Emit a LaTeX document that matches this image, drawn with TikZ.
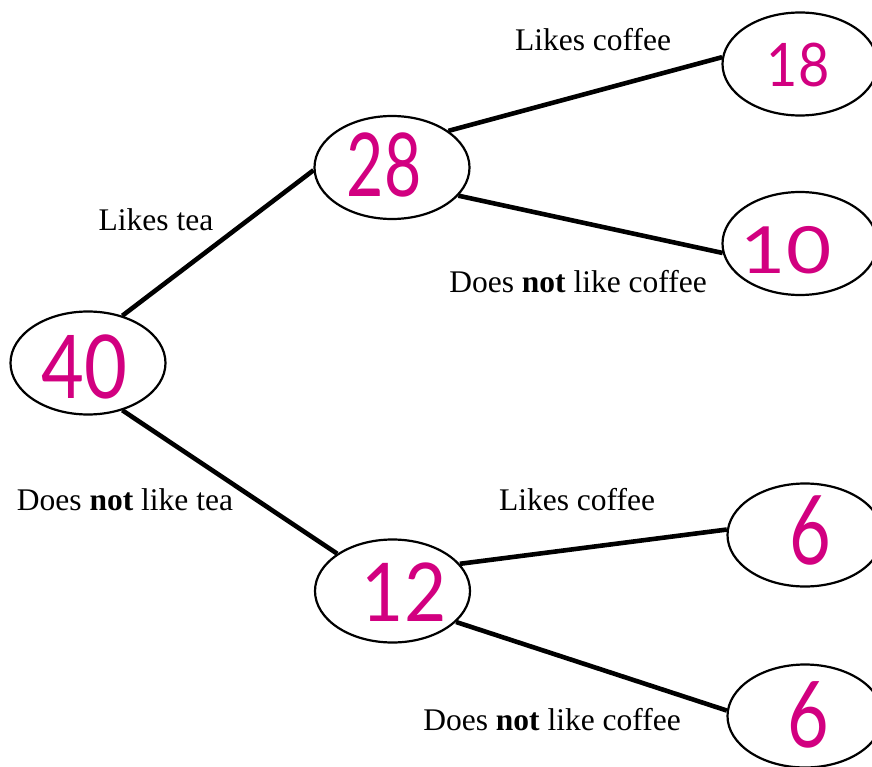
\documentclass[tikz,border=0pt]{standalone}
\usepackage{fontspec}
\usepackage{graphicx}
\setmainfont{Liberation Serif}
\newfontfamily\numfont{Lato}
\usetikzlibrary{shapes.geometric}
\definecolor{pen}{RGB}{210,0,128}
\tikzset{
  count/.style={ellipse, draw=black, line width=2.2pt, fill=white,
    minimum width=155pt, minimum height=103pt, inner sep=0pt},
  num/.style={text=pen, inner sep=0pt, font=\numfont},
  branch/.style={line width=4.6pt},
  lbl/.style={inner sep=0pt, font=\fontsize{31.5}{36}\selectfont}
}
\begin{document}
\begin{tikzpicture}[x=1pt, y=-1pt]
\useasboundingbox (0,0) rectangle (872,767);

% circles of the tree
\node[count] (n40) at (88,363) {};
\node[count] (n28) at (392,167.5) {};
\node[count] (n18) at (800,64) {};
\node[count] (n10) at (800,243.5) {};
\node[count] (n12) at (392.5,591) {};
\node[count] (n6a) at (805,535) {};
\node[count] (n6b) at (805,716) {};

% counts written in the circles
\node[num] (t40) at (84,367) {\fontsize{88}{88}\selectfont\scalebox{0.84}[1]{40}};
\node[num] (t28) at (384,165) {\fontsize{88}{88}\selectfont\scalebox{0.73}[1]{28}};
\node[num] (t18) at (798,65) {\fontsize{60}{60}\selectfont\scalebox{0.9}[1]{18}};
\node[num] (t10) at (786,250) {\fontsize{65}{65}\selectfont\scalebox{1.2}[1]{10}};
\node[num] (t12) at (404,592) {\fontsize{81}{81}\selectfont\scalebox{0.9}[1]{12}};
\node[num] (t6a) at (810,530) {\fontsize{96}{96}\selectfont\scalebox{0.75}[1]{6}};
\node[num] (t6b) at (808,715) {\fontsize{92}{92}\selectfont\scalebox{0.78}[1]{6}};

% branches
\draw[branch] (n40.54) -- (n28.182);
\draw[branch] (n40.-54.6) -- (n12.146.8);
\draw[branch] (n28.33.3) -- (n18.175);
\draw[branch] (n28.-23.7) -- (n10.187.9);
\draw[branch] (n12.22) -- (n6a.176);
\draw[branch] (n12.-26) -- (n6b.176);

% branch labels
\node[lbl] (l1) at (156,220) {Likes tea};
\node[lbl] (l2) at (125,500) {Does \textbf{not} like tea};
\node[lbl] (l3) at (593,40) {Likes coffee};
\node[lbl] (l4) at (578,282) {Does \textbf{not} like coffee};
\node[lbl] (l5) at (577,500) {Likes coffee};
\node[lbl] (l6) at (552,720) {Does \textbf{not} like coffee};
\end{tikzpicture}
\end{document}
